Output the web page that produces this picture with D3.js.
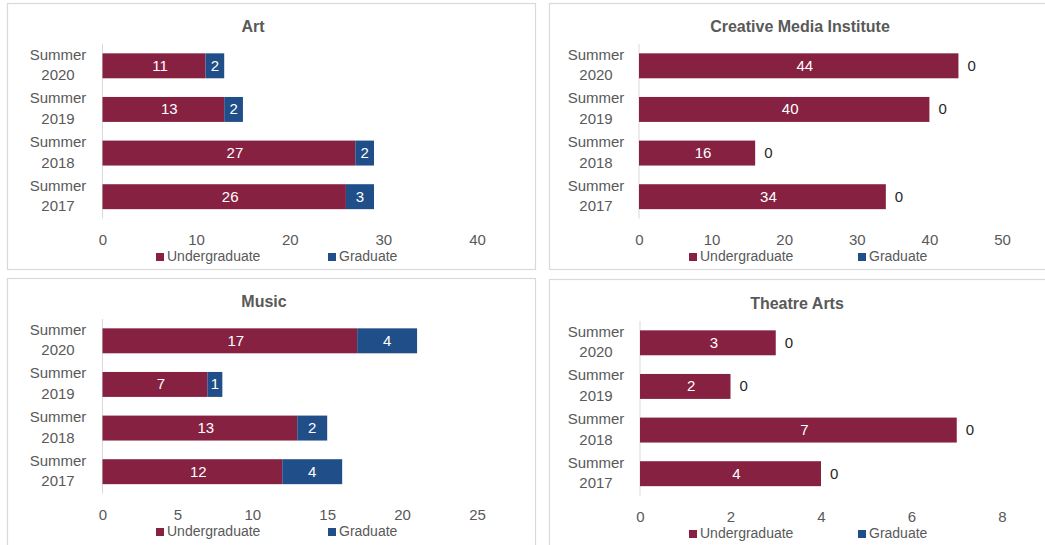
<!DOCTYPE html>
<html>
<head>
<meta charset="utf-8">
<script src="https://cdn.jsdelivr.net/npm/d3@7"></script>
<style>
  html, body { margin: 0; padding: 0; background: #ffffff; }
  svg { display: block; font-family: "Liberation Sans", Arial, sans-serif; }
</style>
</head>
<body>
<svg id="chart" width="1045" height="545"></svg>
<script>
// ---- data ----
const categories = ["Summer 2020", "Summer 2019", "Summer 2018", "Summer 2017"];
const seriesNames = ["Undergraduate", "Graduate"];
const titles = ["Art", "Creative Media Institute", "Music", "Theatre Arts"];
const artUndergrad = [11, 13, 27, 26];
const artGrad = [2, 2, 2, 3];
const cmiUndergrad = [44, 40, 16, 34];
const cmiGrad = [0, 0, 0, 0];
const musicUndergrad = [17, 7, 13, 12];
const musicGrad = [4, 1, 2, 4];
const theatreUndergrad = [3, 2, 7, 4];
const theatreGrad = [0, 0, 0, 0];
const artTicks = [0, 10, 20, 30, 40];
const cmiTicks = [0, 10, 20, 30, 40, 50];
const musicTicks = [0, 5, 10, 15, 20, 25];
const theatreTicks = [0, 2, 4, 6, 8];

// ---- layout (kept separate from data) ----
const colors = ["#862142", "#1f4e89"];
const layouts = [
  {box:[7,3,528,266], x0:102.5, x1:477, y0:44, y1:218.5, titleX:253, titleY:28, tickY:241, legY:257, legX:[156,328], catX:58},
  {box:[549,3,520,266], x0:639, x1:1002, y0:44, y1:218.5, titleX:800, titleY:28, tickY:241, legY:257, legX:[689,858], catX:596},
  {box:[7,278,528,270], x0:102.5, x1:477, y0:319, y1:493.5, titleX:264, titleY:303, tickY:516, legY:532, legX:[156,328], catX:58},
  {box:[549,279,520,270], x0:640, x1:1002, y0:321, y1:495.5, titleX:797, titleY:305, tickY:518, legY:534, legX:[689,858], catX:596}
];
const panels = [
  {title: titles[0], ug: artUndergrad, gr: artGrad, ticks: artTicks},
  {title: titles[1], ug: cmiUndergrad, gr: cmiGrad, ticks: cmiTicks},
  {title: titles[2], ug: musicUndergrad, gr: musicGrad, ticks: musicTicks},
  {title: titles[3], ug: theatreUndergrad, gr: theatreGrad, ticks: theatreTicks}
];

const svg = d3.select("#chart");

panels.forEach((p, i) => {
  const L = layouts[i];
  const g = svg.append("g");

  g.append("rect")
    .attr("x", L.box[0] + 0.5).attr("y", L.box[1] + 0.5)
    .attr("width", L.box[2]).attr("height", L.box[3])
    .attr("fill", "#ffffff").attr("stroke", "#d9d9d9").attr("stroke-width", 1.2);

  const x = d3.scaleLinear()
    .domain([p.ticks[0], p.ticks[p.ticks.length - 1]])
    .range([L.x0, L.x1]);
  const y = d3.scaleBand()
    .domain(categories)
    .range([L.y0, L.y1])
    .paddingInner(0.428)
    .paddingOuter(0.214);

  // title
  g.append("text")
    .attr("x", L.titleX).attr("y", L.titleY)
    .attr("text-anchor", "middle").attr("dominant-baseline", "middle")
    .attr("font-size", 16).attr("font-weight", "bold").attr("fill", "#595959")
    .text(p.title);

  // x axis tick labels
  const xAxis = d3.axisBottom(x).tickValues(p.ticks).tickSize(0).tickPadding(0).tickFormat(d3.format("d"));
  const xa = g.append("g").attr("transform", `translate(0,${L.tickY})`).call(xAxis);
  xa.select(".domain").remove();
  xa.selectAll("text")
    .attr("dy", null).attr("y", 0)
    .attr("dominant-baseline", "middle")
    .attr("font-size", 15).attr("fill", "#595959")
    .attr("font-family", "Liberation Sans, Arial, sans-serif");

  // category axis line
  g.append("line")
    .attr("x1", L.x0).attr("x2", L.x0)
    .attr("y1", L.y0).attr("y2", L.y1)
    .attr("stroke", "#d9d9d9").attr("stroke-width", 1);

  // category labels (two lines)
  categories.forEach(c => {
    const parts = c.split(" ");
    const cy = y(c) + y.bandwidth() / 2;
    parts.forEach((t, k) => {
      g.append("text")
        .attr("x", L.catX).attr("y", cy + (k === 0 ? -10 : 10.5))
        .attr("text-anchor", "middle").attr("dominant-baseline", "middle")
        .attr("font-size", 15).attr("fill", "#595959")
        .text(t);
    });
  });

  // stacked bars
  const rows = categories.map((c, k) => ({cat: c, ug: p.ug[k], gr: p.gr[k]}));
  const stack = d3.stack().keys(["ug", "gr"])(rows);

  stack.forEach((layer, si) => {
    g.append("g").selectAll("rect")
      .data(layer)
      .join("rect")
      .attr("x", d => x(d[0]))
      .attr("y", d => y(d.data.cat))
      .attr("width", d => Math.max(0, x(d[1]) - x(d[0])))
      .attr("height", y.bandwidth())
      .attr("fill", colors[si]);
  });

  // labels
  stack.forEach((layer, si) => {
    g.append("g").selectAll("text")
      .data(layer)
      .join("text")
      .attr("x", d => {
        const v = d[1] - d[0];
        if (v === 0) return x(d[1]) + 9;
        const c = (x(d[0]) + x(d[1])) / 2;
        return si === 0 ? c + 6 : c;
      })
      .attr("y", d => y(d.data.cat) + y.bandwidth() / 2 + 1)
      .attr("text-anchor", d => (d[1] - d[0]) === 0 ? "start" : "middle")
      .attr("dominant-baseline", "middle")
      .attr("font-size", 15)
      .attr("fill", d => (d[1] - d[0]) === 0 ? "#262626" : "#ffffff")
      .text(d => d[1] - d[0]);
  });

  // legend
  seriesNames.forEach((s, k) => {
    g.append("rect")
      .attr("x", L.legX[k]).attr("y", L.legY - 4)
      .attr("width", 8).attr("height", 8)
      .attr("fill", colors[k]);
    g.append("text")
      .attr("x", L.legX[k] + 11).attr("y", L.legY + 0.5)
      .attr("dominant-baseline", "middle")
      .attr("font-size", 14).attr("fill", "#595959")
      .text(s);
  });
});
</script>
</body>
</html>
